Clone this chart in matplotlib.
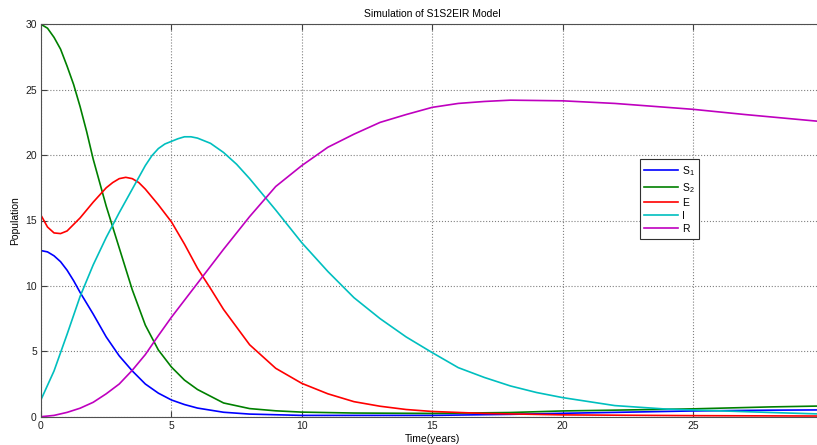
import matplotlib
matplotlib.use("Agg")
import matplotlib.pyplot as plt

plt.rcParams["font.family"] = ["Liberation Sans", "DejaVu Sans"]
plt.rcParams["mathtext.fontset"] = "custom"
plt.rcParams["mathtext.rm"] = "Liberation Sans"
plt.rcParams["mathtext.it"] = "Liberation Sans"

# values (time in years, population)
t_s1 = [0, 0.25, 0.5, 0.75, 1, 1.25, 1.5, 2, 2.5, 3, 3.5, 4, 4.5, 5, 5.5, 6, 7, 8, 9, 10, 12, 15, 18,
        20, 22, 25, 28, 30]
s1 = [12.7, 12.6, 12.3, 11.85, 11.2, 10.4, 9.5, 7.85, 6.1, 4.65, 3.5, 2.5, 1.8, 1.28, 0.93, 0.66, 0.34,
      0.2, 0.15, 0.1, 0.1, 0.1, 0.18, 0.26, 0.33, 0.44, 0.5, 0.52]

t_s2 = [0, 0.25, 0.5, 0.75, 1, 1.25, 1.5, 1.75, 2, 2.5, 3, 3.5, 4, 4.5, 5, 5.5, 6, 7, 8, 9, 10, 12, 15,
        18, 20, 22, 25, 28, 30]
s2 = [30.0, 29.7, 29.0, 28.1, 26.8, 25.4, 23.7, 21.8, 19.7, 16.1, 12.9, 9.7, 7.0, 5.1, 3.8, 2.8, 2.08,
      1.05, 0.62, 0.45, 0.35, 0.28, 0.25, 0.32, 0.44, 0.5, 0.6, 0.75, 0.82]

t_e = [0, 0.25, 0.5, 0.75, 1, 1.5, 2, 2.5, 2.75, 3, 3.25, 3.5, 3.75, 4, 4.5, 5, 5.5, 6, 6.5, 7, 8, 9,
       10, 11, 12, 13, 14, 15, 17, 20, 25, 30]
e = [15.4, 14.5, 14.05, 14.0, 14.2, 15.2, 16.4, 17.5, 17.9, 18.2, 18.3, 18.2, 17.9, 17.4, 16.2, 14.9,
     13.2, 11.35, 9.8, 8.2, 5.5, 3.7, 2.55, 1.75, 1.15, 0.8, 0.55, 0.4, 0.25, 0.14, 0.08, 0.05]

t_i = [0, 0.5, 1, 1.5, 2, 2.5, 3, 3.5, 4, 4.25, 4.5, 4.75, 5, 5.25, 5.5, 5.75, 6, 6.5, 7, 7.5, 8, 9,
       10, 11, 12, 13, 14, 15, 16, 17, 18, 19, 20, 22, 24, 26, 28, 30]
i_vals = [1.3, 3.5, 6.3, 9.2, 11.6, 13.7, 15.6, 17.4, 19.2, 19.95, 20.5, 20.85, 21.05, 21.25, 21.4,
          21.4, 21.3, 20.9, 20.2, 19.3, 18.2, 15.8, 13.3, 11.1, 9.1, 7.5, 6.1, 4.9, 3.75, 3.0, 2.35,
          1.85, 1.46, 0.85, 0.58, 0.45, 0.32, 0.2]

t_r = [0, 0.5, 1, 1.5, 2, 2.5, 3, 3.5, 4, 4.5, 5, 5.5, 6, 7, 8, 9, 10, 11, 12, 13, 14, 15, 16, 17, 18,
       20, 22, 24, 25, 27, 30]
r = [0.0, 0.1, 0.33, 0.65, 1.1, 1.75, 2.5, 3.55, 4.75, 6.2, 7.6, 8.9, 10.2, 12.8, 15.3, 17.6, 19.2,
     20.6, 21.6, 22.5, 23.1, 23.65, 23.95, 24.1, 24.2, 24.15, 23.95, 23.65, 23.5, 23.1, 22.55]

labels = ["S$_1$", "S$_2$", "E", "I", "R"]
colors = ["#0000ff", "#008000", "#ff0000", "#00bfbf", "#bf00bf"]


def plot_model(fig_location: str = None):
    """
    Plots the S1S2EIR model simulation in a MATLAB-like style

    Parameters
    ----------
    fig_location: str
        path for figure storing
    """

    fig = plt.figure(figsize=(8.17, 4.45), dpi=100)
    ax = fig.add_axes([41 / 817, 28.3 / 445, 782.4 / 817, 392.4 / 445])

    series = [(t_s1, s1), (t_s2, s2), (t_e, e), (t_i, i_vals), (t_r, r)]
    for (tt, vals), lab, col in zip(series, labels, colors):
        ax.plot(tt, vals, color=col, linewidth=1.2, label=lab,
                solid_joinstyle="round")

    ax.set_xlim(0, 30)
    ax.set_ylim(0, 30)
    ax.set_xticks(range(0, 31, 5))
    ax.set_yticks(range(0, 31, 5))
    ax.grid(True, linestyle=":", color="#808080", linewidth=0.8)
    ax.tick_params(direction="in", top=True, right=True, labelsize=7.5,
                   length=4, color="#404040", labelcolor="#202020", pad=3)
    for sp in ax.spines.values():
        sp.set_color("#505050")
        sp.set_linewidth(0.8)

    ax.set_title("Simulation of S1S2EIR Model", fontsize=7.5, pad=5)
    ax.set_xlabel("Time(years)", fontsize=7.5, labelpad=2)
    ax.set_ylabel("Population", fontsize=7.5, labelpad=4)

    leg = ax.legend(loc="upper left", bbox_to_anchor=(639.5 / 817, 1 - 159.3 / 445),
                    bbox_transform=fig.transFigure, borderaxespad=0, fontsize=7.5,
                    fancybox=False, framealpha=1, edgecolor="#303030",
                    handlelength=3.2, labelspacing=0.3, borderpad=0.45,
                    handletextpad=0.4)
    leg.get_frame().set_linewidth(0.8)

    if fig_location:
        fig.savefig(fig_location, dpi=100)


if __name__ == "__main__":
    plot_model("out.png")
